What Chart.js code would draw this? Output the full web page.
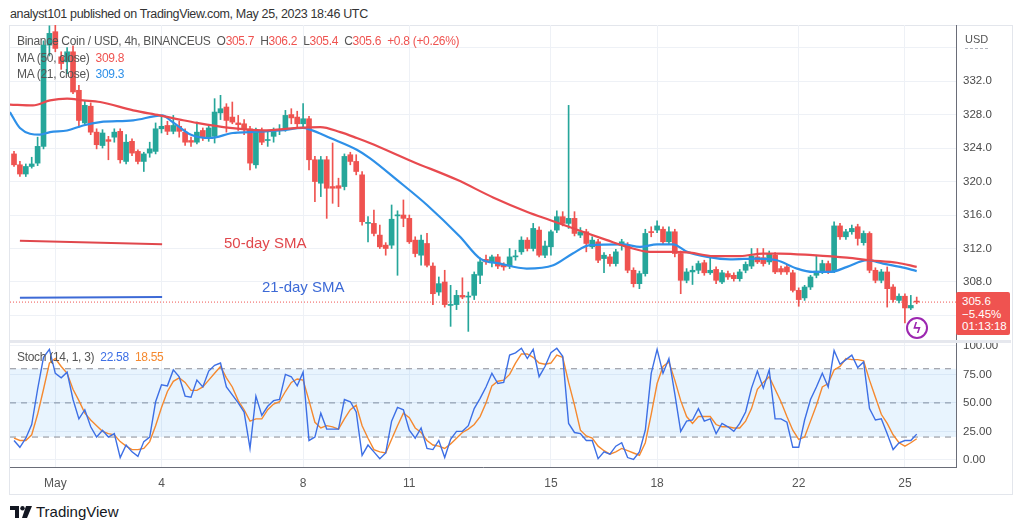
<!DOCTYPE html>
<html>
<head>
<meta charset="utf-8">
<script src="https://cdn.jsdelivr.net/npm/chart.js@4.4.0/dist/chart.umd.min.js"></script>
<style>
  body { margin: 0; width: 1024px; height: 529px; background: #fff; position: relative; overflow: hidden;
         font-family: "Liberation Sans", Arial, sans-serif; }
  canvas { position: absolute; }
  .txt { position: absolute; white-space: nowrap; }
  #head { left: 10px; top: 6px; font-size: 12.5px; line-height: 16px; color: #333; letter-spacing: -0.35px; }
  .leg { left: 17px; font-size: 12px; line-height: 16px; color: #555; letter-spacing: -0.3px; }
  .red { color: #ef5350; }
  .blue { color: #2e90e8; }
  #frame { position: absolute; left: 9px; top: 25px; width: 1002px; height: 468px; border: 1px solid #e3e6ec; }
  #sep { position: absolute; left: 10px; top: 340px; width: 1001px; height: 3px; background: #e6e8ee; }
  #pricebox { position: absolute; left: 956px; top: 292px; width: 54px; height: 43px; background: #ef5350;
              color: #fff; font-size: 11.5px; line-height: 12.5px; padding: 3px 0 0 6px; box-sizing: border-box; border-radius: 2px; }
  #usd { left: 965px; top: 32px; font-size: 11px; line-height: 14px; color: #555;
         border-bottom: 1px dashed #b2b5be; padding-bottom: 2px; }
  #bolt { position: absolute; left: 906px; top: 317px; width: 18px; height: 18px; border: 2px solid #9c27b0;
          border-radius: 50%; color: #9c27b0; font-size: 14px; line-height: 18px; text-align: center; font-weight: bold; }
  #logo { left: 10px; top: 503px; font-size: 15px; line-height: 18px; color: #131722; }
</style>
</head>
<body>
<div id="frame"></div>
<canvas id="priceChart" width="1000" height="315" style="left:10px;top:25px"></canvas>
<canvas id="stochChart" width="1000" height="157" style="left:10px;top:338px"></canvas>
<div id="sep"></div>

<div id="head" class="txt">analyst101 published on TradingView.com, May 25, 2023 18:46 UTC</div>
<div class="txt leg" style="top:33px">Binance Coin / USD, 4h, BINANCEUS &nbsp;O<span class="red">305.7</span> &nbsp;H<span class="red">306.2</span> &nbsp;L<span class="red">305.4</span> &nbsp;C<span class="red">305.6</span> &nbsp;<span class="red">+0.8 (+0.26%)</span></div>
<div class="txt leg" style="top:50px">MA (50, close) &nbsp;<span class="red">309.8</span></div>
<div class="txt leg" style="top:66px">MA (21, close) &nbsp;<span class="blue">309.3</span></div>
<div class="txt leg" style="top:349px">Stoch (14, 1, 3) &nbsp;<span style="color:#3d6fe5">22.58</span> &nbsp;<span style="color:#f5892f">18.55</span></div>
<div class="txt" style="left:224px;top:234px;font-size:15px;line-height:18px;color:#e0474c">50-day SMA</div>
<div class="txt" style="left:262px;top:278px;font-size:15px;line-height:18px;color:#3d6ad6">21-day SMA</div>
<div id="usd" class="txt">USD</div>
<div id="pricebox">305.6<br>&minus;5.45%<br>01:13:18</div>
<div id="bolt">ϟ</div>
<div id="logo" class="txt"><svg width="22" height="12" style="vertical-align:-1px;margin-right:4px"><path d="M0 0h9v12h-4v-8h-5z" fill="#131722"/><circle cx="12.5" cy="2.2" r="2.2" fill="#131722"/><path d="M16 0h6l-5 12h-5z" fill="#131722"/></svg>TradingView</div>

<script>
// 4h candles, index 0 = first candle on screen, index 7 = May 1 00:00
const opens = [
  323.3, 322.0, 320.9, 321.8, 322.2, 324.2, 336.3, 337.9, 334.9, 334.3,
  335.5, 330.9, 327.0, 329.0, 325.9, 324.3, 325.0, 325.3, 326.0, 322.4,
  324.8, 323.6, 322.4, 323.4, 323.6, 326.3, 326.7, 326.0, 326.6, 325.9,
  324.9, 324.7, 326.1, 325.2, 325.4, 328.2, 328.9, 327.7, 327.0, 326.9,
  326.3, 322.0, 326.1, 324.9, 325.4, 326.1, 326.2, 328.0, 327.7, 326.9,
  327.5, 322.6, 319.8, 322.6, 319.4, 319.5, 319.4, 323.2, 322.4, 320.8,
  315.0, 315.0, 313.6, 312.4, 312.4, 315.9, 316.0, 315.6, 313.0, 311.2,
  312.6, 309.9, 306.8, 308.0, 305.2, 305.3, 306.4, 306.2, 306.4, 308.8,
  310.7, 310.4, 311.0, 310.1, 309.9, 311.0, 311.6, 313.0, 312.0, 314.2,
  311.2, 312.2, 314.2, 315.8, 315.0, 315.6, 313.6, 314.0, 312.2, 312.8,
  310.8, 311.0, 310.2, 312.4, 312.4, 309.4, 307.8, 309.0, 314.0, 314.2,
  314.3, 312.8, 314.0, 311.4, 308.2, 309.2, 309.4, 310.3, 309.1, 309.5,
  308.0, 309.0, 308.8, 308.4, 309.4, 309.9, 311.0, 310.9, 310.4, 311.2,
  309.6, 309.8, 309.1, 307.0, 306.1, 307.4, 308.8, 309.3, 310.2, 309.3,
  314.7, 313.4, 314.0, 314.6, 312.7, 313.8, 309.4, 308.2, 309.2, 307.4,
  305.8, 306.3, 304.9, 305.7
];
const highs = [
  323.6, 322.4, 322.1, 322.9, 325.3, 336.8, 338.6, 338.7, 335.5, 336.0,
  336.2, 331.5, 329.6, 329.4, 326.3, 326.2, 325.4, 326.3, 326.3, 325.6,
  325.1, 323.8, 323.5, 324.7, 327.0, 327.9, 327.2, 327.9, 327.2, 326.3,
  325.3, 327.1, 326.4, 326.7, 329.9, 330.3, 329.3, 329.5, 327.9, 327.4,
  326.6, 326.4, 326.4, 326.1, 326.4, 326.8, 328.5, 328.7, 328.4, 329.3,
  327.8, 323.0, 323.0, 323.0, 324.6, 320.4, 323.3, 323.5, 323.2, 321.2,
  315.8, 316.6, 314.8, 312.7, 317.2, 316.5, 317.8, 316.0, 313.4, 313.6,
  313.8, 310.3, 308.6, 309.4, 307.6, 307.0, 308.5, 306.8, 309.2, 310.9,
  311.2, 311.2, 311.3, 310.3, 312.0, 311.8, 313.4, 313.3, 315.0, 314.6,
  312.9, 314.2, 316.5, 316.4, 329.1, 316.4, 314.5, 314.3, 313.4, 313.1,
  311.5, 311.3, 311.9, 313.1, 312.7, 309.7, 309.3, 314.3, 314.6, 315.3,
  314.6, 314.6, 314.3, 311.7, 309.6, 309.9, 310.5, 310.6, 311.0, 309.8,
  309.4, 309.3, 309.1, 309.5, 310.4, 312.0, 312.0, 312.0, 311.7, 311.5,
  309.9, 310.1, 309.4, 307.3, 307.6, 308.8, 311.2, 310.6, 310.5, 315.2,
  315.0, 314.3, 314.8, 314.9, 314.1, 314.0, 309.7, 309.5, 309.8, 307.7,
  306.6, 306.6, 306.4, 306.2
];
const lows = [
  321.8, 320.6, 320.6, 321.6, 321.9, 323.9, 335.0, 335.5, 333.4, 332.9,
  330.5, 326.5, 326.8, 325.6, 323.9, 324.0, 322.6, 324.7, 322.2, 322.1,
  323.1, 322.1, 321.2, 322.9, 323.3, 325.8, 325.6, 325.7, 325.3, 324.3,
  324.2, 324.5, 324.9, 324.8, 324.6, 327.4, 325.9, 326.9, 326.1, 325.6,
  321.4, 321.6, 324.4, 324.2, 324.7, 325.6, 326.0, 326.9, 326.5, 326.5,
  321.4, 317.6, 318.2, 315.6, 317.4, 317.0, 319.0, 322.0, 320.8, 314.8,
  312.8, 313.5, 312.0, 311.2, 312.0, 308.8, 314.6, 312.6, 311.0, 310.0,
  309.8, 305.3, 306.4, 305.0, 302.7, 304.7, 306.0, 302.1, 305.9, 307.8,
  310.1, 309.8, 309.6, 309.4, 309.6, 310.6, 311.3, 311.7, 311.7, 311.0,
  310.9, 311.2, 313.9, 314.7, 314.4, 313.5, 313.3, 311.6, 312.0, 310.3,
  309.1, 309.9, 309.9, 311.8, 309.1, 307.4, 307.2, 308.7, 313.4, 313.9,
  312.5, 312.5, 311.0, 306.6, 307.9, 307.7, 309.0, 308.8, 308.9, 307.8,
  307.8, 308.3, 308.1, 308.1, 309.1, 309.6, 310.2, 309.9, 310.1, 309.0,
  308.9, 308.9, 306.8, 305.1, 305.8, 307.1, 308.5, 309.0, 309.0, 309.1,
  313.1, 313.1, 313.7, 312.4, 312.4, 309.1, 307.9, 307.9, 305.0, 305.6,
  305.5, 303.1, 304.7, 305.4
];
const closes = [
  322.0, 320.9, 321.8, 322.1, 324.2, 336.3, 337.7, 335.9, 334.1, 335.5,
  330.7, 327.3, 329.1, 325.9, 324.4, 325.8, 324.8, 325.9, 322.6, 324.7,
  323.4, 322.4, 323.3, 323.9, 326.3, 326.6, 326.0, 326.7, 326.0, 324.7,
  324.7, 325.9, 325.3, 326.4, 328.3, 328.7, 327.3, 327.1, 326.8, 326.3,
  322.2, 326.1, 324.7, 325.0, 326.1, 326.2, 327.9, 327.6, 326.9, 327.5,
  322.6, 320.0, 322.6, 319.2, 319.2, 319.2, 323.0, 322.4, 321.2, 315.2,
  315.1, 313.8, 312.2, 312.0, 315.5, 316.0, 315.6, 312.8, 311.4, 313.0,
  310.0, 306.6, 307.8, 305.3, 305.3, 306.4, 306.2, 306.3, 308.9, 310.4,
  310.4, 311.0, 309.9, 309.8, 311.0, 311.1, 313.0, 312.0, 314.4, 311.2,
  312.3, 314.0, 315.8, 315.0, 315.6, 313.8, 314.0, 312.6, 313.0, 310.6,
  311.2, 310.2, 311.6, 312.8, 309.4, 307.8, 309.0, 313.8, 313.9, 314.7,
  312.8, 314.0, 311.4, 308.2, 309.2, 309.4, 310.2, 309.1, 309.4, 308.2,
  309.1, 308.6, 308.4, 309.2, 310.1, 311.1, 310.4, 310.2, 311.4, 309.2,
  309.2, 309.2, 307.0, 305.9, 307.4, 308.6, 309.3, 310.2, 309.3, 314.7,
  313.4, 314.0, 314.4, 313.2, 313.8, 309.4, 308.2, 309.2, 307.2, 305.9,
  306.3, 304.9, 305.2, 305.6
];

// moving averages at candle positions
const ma50Idx = [-0.7, 3.2, 6.1, 9.0, 11.7, 14.6, 20.2, 24.7, 28.1, 31.0, 36.6, 42.2, 48.0, 51.9, 55.3, 58.1,
  60.3, 67.5, 75.1, 81.2, 86.9, 90.8, 96.4, 100.5, 103.9, 107.8, 111.7, 114.6, 118.5, 123.1, 126.9, 129.8,
  135.4, 141.2, 145.1, 149.7, 153];
const ma50Val = [329.2, 329.1, 329.7, 329.9, 329.7, 329.5, 328.5, 327.9, 327.4, 327.0, 326.4, 326.1, 326.4, 326.5, 325.9, 325.2,
  324.6, 322.4, 320.2, 318.1, 316.4, 315.4, 314.0, 313.0, 312.2, 311.6, 311.6, 311.5, 311.1, 311.1, 311.4, 311.4,
  311.2, 310.9, 310.6, 310.3, 309.8];
const ma21Idx = [-0.7, 1.0, 4.4, 6.1, 9.0, 11.7, 14.6, 20.2, 25.1, 26.9, 30.0, 33.2, 37.1, 40.0, 45.1, 49.0,
  50.2, 53.6, 58.1, 60.3, 64.9, 70.0, 75.6, 79.0, 82.4, 86.9, 91.4, 94.7, 97.6, 103.2, 106.1, 109.0,
  111.7, 114.1, 117.5, 121.4, 125.9, 129.3, 132.7, 135.4, 138.3, 141.2, 144.6, 147.3, 150.2, 153];
const ma21Val = [328.3, 326.4, 325.6, 325.9, 326.1, 326.7, 327.1, 327.3, 327.9, 327.1, 325.6, 325.2, 325.8, 325.9, 326.1, 326.4,
  326.2, 325.2, 323.8, 322.8, 320.2, 317.2, 313.4, 310.8, 310.2, 309.6, 310.0, 311.4, 312.4, 312.5, 312.2, 312.5,
  312.5, 311.6, 311.0, 310.7, 310.8, 310.6, 309.6, 309.2, 309.2, 309.8, 310.6, 310.2, 309.8, 309.3];

// hand-drawn annotation lines under the legend
const noteIdx = [1.0, 25.1];
const sma50Note = [312.93, 312.5];
const sma21Note = [306.13, 306.2];
const lastPrice = 305.6;

// Stoch (14, 1, 3)
const stochK = [
  17, 11, 19, 31, 62, 90, 97, 76, 72, 77,
  53, 36, 44, 29, 20, 26, 20, 23, 2, 13,
  7, 3, 16, 20, 51, 66, 65, 79, 73, 56,
  55, 70, 64, 78, 83, 85, 64, 57, 50, 42,
  10, 56, 39, 47, 52, 53, 75, 73, 65, 77,
  17, 20, 41, 27, 27, 27, 53, 51, 42, 4,
  13, 7, 1, 6, 34, 46, 44, 26, 19, 28,
  10, 9, 17, 2, 18, 25, 25, 30, 45, 54,
  64, 76, 67, 68, 92, 94, 98, 89, 97, 73,
  82, 94, 98, 91, 32, 24, 23, 17, 17, 1,
  7, 5, 12, 15, 2, 0.4, 7, 26, 76, 97,
  76, 89, 58, 25, 34, 35, 45, 34, 36, 23,
  32, 29, 25, 32, 42, 63, 78, 63, 79, 36,
  36, 33, 11, 11, 35, 53, 64, 76, 64, 96,
  84, 88, 92, 81, 86, 45, 35, 36, 23, 9,
  15, 17, 17, 22.58
];
const stochD = [
  19, 17, 17, 22, 40, 62, 85, 89, 82, 76,
  62, 52, 41, 35, 30, 25, 23, 22, 16, 12,
  9, 9, 10, 16, 30, 46, 60, 69, 72, 68,
  61, 61, 64, 70, 76, 82, 72, 64, 52, 44,
  34, 36, 36, 44, 49, 51, 60, 68, 71, 70,
  52, 33, 28, 30, 29, 27, 36, 44, 48, 30,
  19, 9, 7, 6, 18, 30, 41, 37, 28, 24,
  17, 13, 12, 10, 14, 19, 24, 27, 31, 38,
  50, 65, 69, 70, 75, 85, 93, 93, 90, 85,
  84, 85, 92, 90, 68, 48, 26, 21, 19, 12,
  8, 5, 7, 10, 8, 6, 4, 15, 40, 67,
  82, 86, 70, 52, 38, 32, 38, 38, 38, 31,
  29, 29, 28, 28, 34, 45, 62, 68, 73, 62,
  51, 38, 26, 18, 20, 34, 48, 64, 67, 79,
  82, 89, 88, 88, 87, 70, 55, 40, 32, 22,
  15, 12, 15, 18.55
];
const stochLevels = [80, 50, 20];

const dayTicks = [7, 25, 49, 67, 91, 109, 133, 151];
const dayLabels = ['May', '4', '8', '11', '15', '18', '22', '25'];
const priceTicks = [304, 308, 312, 316, 320, 324, 328, 332, 336];
const stochTicks = [0, 25, 50, 75, 100];

const xMin = -0.68, xMax = 159.66;
const upColor = '#26a69a', downColor = '#ef5350';
const gridColor = '#eef1f6';
const axisColor = '#6a6d78';

Chart.defaults.font.family = '"Liberation Sans", Arial, sans-serif';
Chart.defaults.font.size = 11.5;
Chart.defaults.color = '#4a4a4a';
Chart.defaults.animation = false;

const candleColors = opens.map((o, i) => closes[i] >= o ? upColor : downColor);

// keep the plot area exactly where the reference has it
function noPad(s) {
  s.paddingTop = 0; s.paddingBottom = 0; s.paddingLeft = 0; s.paddingRight = 0;
}

function xScale(showLabels) {
  return {
    type: 'linear', min: xMin, max: xMax, offset: false,
    afterBuildTicks: s => { s.ticks = dayTicks.map(v => ({ value: v })); },
    afterFit: s => { s.height = showLabels ? 28 : 0; noPad(s); },
    grid: { color: gridColor, drawTicks: false, offset: false },
    border: { display: showLabels, color: axisColor },
    ticks: { display: showLabels, padding: 9, font: { size: 12 }, color: '#555',
             maxRotation: 0, autoSkip: false, callback: (v, i) => dayLabels[i] }
  };
}

function flatLine(y, extra) {
  return Object.assign({ type: 'line', data: [{ x: xMin, y: y }, { x: xMax, y: y }], pointRadius: 0, borderWidth: 1 }, extra);
}

new Chart(document.getElementById('priceChart'), {
  type: 'bar',
  data: {
    datasets: [
      { type: 'bar', data: lows.map((l, i) => ({ x: i, y: [l, highs[i]] })), backgroundColor: candleColors,
        barThickness: 1, grouped: false, order: 4 },
      { type: 'bar', data: opens.map((o, i) => ({ x: i, y: [o, closes[i]] })), backgroundColor: candleColors,
        barThickness: 5, minBarLength: 1, grouped: false, order: 3 },
      flatLine(lastPrice, { borderColor: '#ef5350', borderDash: [1, 2], order: 5 }),
      { type: 'line', data: ma50Idx.map((x, k) => ({ x: x, y: ma50Val[k] })), borderColor: '#e84a4f', borderWidth: 2.2,
        pointRadius: 0, cubicInterpolationMode: 'monotone', order: 1 },
      { type: 'line', data: ma21Idx.map((x, k) => ({ x: x, y: ma21Val[k] })), borderColor: '#2e90e8', borderWidth: 2.2,
        pointRadius: 0, cubicInterpolationMode: 'monotone', order: 2 },
      { type: 'line', data: noteIdx.map((x, k) => ({ x: x, y: sma50Note[k] })), borderColor: '#e0474c', borderWidth: 2,
        pointRadius: 0, order: 1 },
      { type: 'line', data: noteIdx.map((x, k) => ({ x: x, y: sma21Note[k] })), borderColor: '#3d6ad6', borderWidth: 2,
        pointRadius: 0, order: 1 }
    ]
  },
  options: {
    responsive: false,
    layout: { padding: 0 },
    plugins: { legend: { display: false }, tooltip: { enabled: false } },
    scales: {
      x: xScale(false),
      y: {
        position: 'right', min: 301.07, max: 338.7,
        afterBuildTicks: s => { s.ticks = priceTicks.map(v => ({ value: v })); },
        afterFit: s => { s.width = 54; noPad(s); },
        grid: { color: gridColor, drawTicks: false },
        border: { display: true, color: axisColor },
        ticks: { padding: 7, callback: v => (v >= 308 && v <= 332) ? v.toFixed(1) : '' }
      }
    }
  }
});

new Chart(document.getElementById('stochChart'), {
  type: 'line',
  data: {
    datasets: [
      flatLine(stochLevels[0], { borderColor: '#8a8d96', borderDash: [6, 5], order: 3 }),
      flatLine(stochLevels[2], { borderColor: '#8a8d96', borderDash: [6, 5], order: 3,
        fill: { value: stochLevels[0] }, backgroundColor: 'rgba(33,150,243,0.10)' }),
      flatLine(stochLevels[1], { borderColor: '#8a8d96', borderDash: [6, 5], order: 3 }),
      { data: stochD.map((v, i) => ({ x: i, y: v })), borderColor: '#f5892f', borderWidth: 1.4, pointRadius: 0, order: 2 },
      { data: stochK.map((v, i) => ({ x: i, y: v })), borderColor: '#3d6fe5', borderWidth: 1.4, pointRadius: 0, order: 1 }
    ]
  },
  options: {
    responsive: false,
    layout: { padding: { top: 4 } },
    plugins: { legend: { display: false }, tooltip: { enabled: false } },
    scales: {
      x: xScale(true),
      y: {
        position: 'right', min: -6.3, max: 103.5,
        afterBuildTicks: s => { s.ticks = stochTicks.map(v => ({ value: v })); },
        afterFit: s => { s.width = 54; noPad(s); },
        grid: { color: gridColor, drawTicks: false },
        border: { display: true, color: axisColor },
        ticks: { padding: 7, callback: v => v.toFixed(2) }
      }
    }
  }
});
</script>
</body>
</html>
